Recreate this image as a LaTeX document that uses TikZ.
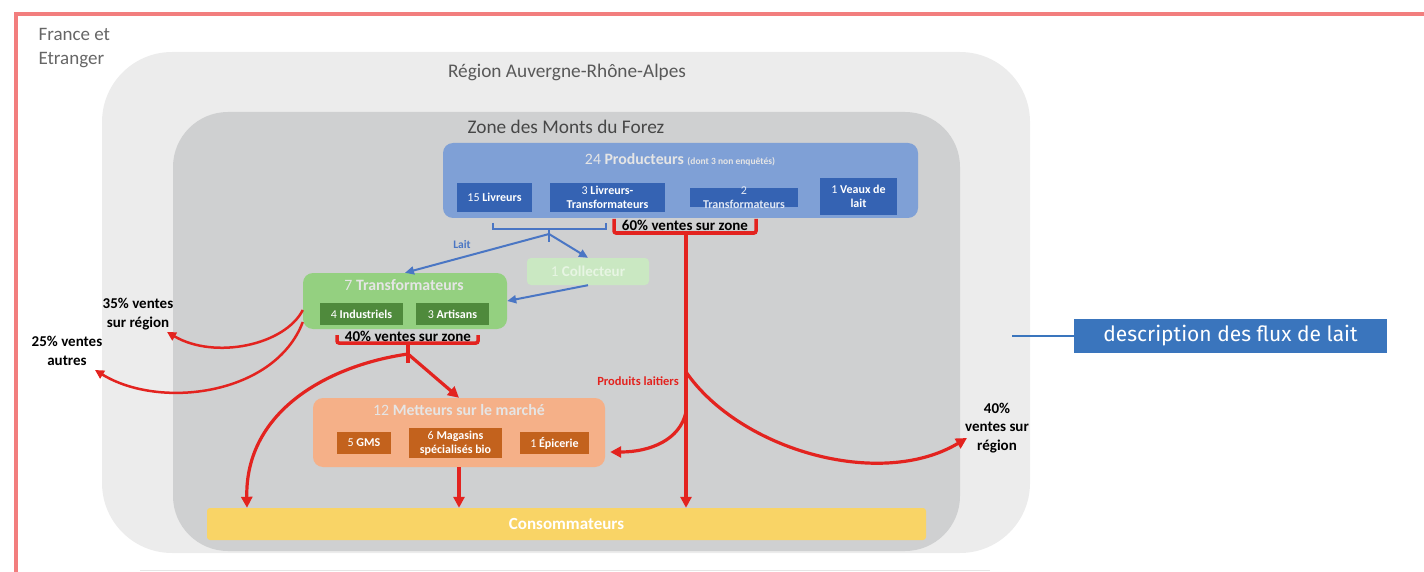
\documentclass[tikz,border=0pt]{standalone}
\usepackage{fontspec}
\setmainfont{Carlito}
\newfontfamily\legendfont{Fira Sans}
\usetikzlibrary{arrows.meta,positioning}

\definecolor{bordre}{HTML}{F27E7E}
\definecolor{regionfill}{HTML}{ECECEC}
\definecolor{zonefill}{HTML}{CFD0D1}
\definecolor{prodfill}{HTML}{7FA0D6}
\definecolor{prodsub}{HTML}{3563B3}
\definecolor{transfill}{HTML}{94D080}
\definecolor{transsub}{HTML}{4F8A3C}
\definecolor{collfill}{HTML}{CAE8C2}
\definecolor{mettfill}{HTML}{F5B088}
\definecolor{mettsub}{HTML}{C3621D}
\definecolor{consofill}{HTML}{F9D466}
\definecolor{flowred}{HTML}{E3231F}
\definecolor{milkblue}{HTML}{4A76C4}
\definecolor{legendblue}{HTML}{3A75BD}

\newcommand{\fsz}[2]{\fontsize{#1}{#2}\selectfont}

\begin{document}
\begin{tikzpicture}[x=1pt,y=-1pt,
	groupbox/.style={rounded corners=10pt,inner sep=0pt},
	subbox/.style={inner sep=0pt,text=white,align=center,font=\fsz{12}{14}},
	boxtitle/.style={text=white!90!black,font=\fsz{15.8}{17}},
	areatitle/.style={text=black!65,font=\fsz{19.3}{22}},
	pct/.style={align=center,inner sep=1pt,font=\bfseries\fsz{15}{18.5}},
	flow/.style={draw=flowred,line width=3.2pt,-{Triangle[length=11pt,width=11pt]}},
	thinflow/.style={draw=flowred,line width=2.5pt,-{Triangle[length=9pt,width=9pt]}},
	bracket/.style={draw=flowred,line width=3.5pt,rounded corners=2pt},
	milkline/.style={draw=milkblue,line width=2pt},
	milk/.style={milkline,-{Triangle[length=9pt,width=8pt]}}]
	\useasboundingbox (0,0) rectangle (1424,572);
	% frame and areas
	\draw[bordre,line width=4pt] (16,572) -- (16,14) -- (1424,14);
	\fill[regionfill,rounded corners=70pt] (102,52) rectangle (1030,553);
	\fill[zonefill,rounded corners=55pt] (173,112) rectangle (960,551);
	\draw[black!10,line width=1pt] (140,570) -- (990,570);
	\node[anchor=west,align=left,text=black!60,font=\fsz{19}{24}] (monde) at (35,48) {France et\\Etranger};
	\node[areatitle] (region) at (567,72) {Région Auvergne-Rhône-Alpes};
	\node[areatitle,text=black!72] (zone) at (566,127) {Zone des Monts du Forez};

	% producteurs
	\node[groupbox,fill=prodfill,minimum width=475,minimum height=75] (prod) at (680.5,180.5) {};
	\node[boxtitle] (prodtitle) at (680,160) {24 \textbf{Producteurs} {\bfseries\fsz{9.5}{10}(dont 3 non enquêtés)}};
	\node[subbox,fill=prodsub,minimum width=75,minimum height=29] (livr) at (494.5,197.5) {15 \textbf{Livreurs}};
	\node[subbox,fill=prodsub,minimum width=115,minimum height=29] (livtr) at (607.5,197.5) {3 \textbf{Livreurs-}\\\textbf{Transformateurs}};
	\node[subbox,fill=prodsub,minimum width=108,minimum height=19] (transf) at (744,197.5) {};
	\node[subbox,text=white!85!prodsub] (transftxt) at (transf) {2\\\textbf{Transformateurs}};
	\node[subbox,fill=prodsub,minimum width=77,minimum height=37] (veaux) at (858.5,196.5) {1 \textbf{Veaux de}\\\textbf{lait}};

	% transformateurs, collecteur
	\node[groupbox,fill=transfill,minimum width=204,minimum height=56] (transfo) at (405,301) {};
	\node[boxtitle] (transfotitle) at (404,285) {7 \textbf{Transformateurs}};
	\node[subbox,fill=transsub,minimum width=83,minimum height=22] (indus) at (361.5,314) {4 \textbf{Industriels}};
	\node[subbox,fill=transsub,minimum width=73,minimum height=22] (artis) at (452.5,314) {3 \textbf{Artisans}};
	\node[groupbox,fill=collfill,rounded corners=4pt,minimum width=122,minimum height=27,text=white!55!collfill,font=\fsz{15}{16}] (coll) at (588,271.5) {1 \textbf{Collecteur}};

	% metteurs sur le marche
	\node[groupbox,fill=mettfill,minimum width=292,minimum height=69] (mett) at (459,432.5) {};
	\node[boxtitle] (metttitle) at (459,410) {12 \textbf{Metteurs sur le marché}};
	\node[subbox,fill=mettsub,minimum width=54,minimum height=22] (gms) at (364,443) {5 \textbf{GMS}};
	\node[subbox,fill=mettsub,minimum width=93,minimum height=30] (bio) at (455.5,443) {6 \textbf{Magasins}\\\textbf{spécialisés bio}};
	\node[subbox,fill=mettsub,minimum width=69,minimum height=22] (epic) at (554.5,443) {1 \textbf{Épicerie}};

	\node[fill=consofill,rounded corners=3pt,minimum width=719,minimum height=32,text=white,font=\bfseries\fsz{17}{18}] (conso) at (566.5,524) {Consommateurs};

	% flux de lait
	\draw[milkline] (493,223) -- (493,229) -- (606,229) -- (606,223);
	\draw[milkline] (549,229) -- (549,242);
	\coordinate (laitsplit) at (549,234);
	\draw[milk] (laitsplit) -- (transfo.north);
	\draw[milk] (laitsplit) -- (coll.north);
	\draw[milk] (coll.south) -- (transfo.east);
	\node[text=milkblue,font=\bfseries\fsz{11.5}{12}] (lait) at (462,245) {Lait};

	% ventes des producteurs
	\draw[bracket] (614,219) -- (614,233) -- (756,233) -- (756,219);
	\node[pct] (zone60) at (685,225) {60\% ventes sur zone};
	\coordinate (p60) at (686,233);
	\coordinate (lait1) at (686,372);
	\coordinate (lait2) at (686,412);
	\coordinate (r40) at (967,438);
	\draw[flow] (p60) -- (p60 |- conso.north);
	\draw[flow] (lait1) .. controls (740,450) and (880,490) .. (r40);
	\draw[flow] (lait2) .. controls (680,440) and (650,452) .. ([xshift=5pt,yshift=-19.5pt]mett.east);
	\node[text=flowred,font=\bfseries\fsz{12.5}{13}] (prodlait) at (638,381) {Produits laitiers};
	\node[pct] (reg40) at (997,428) {40\%\\ventes sur\\région};

	% ventes des transformateurs
	\draw[bracket] (337,335) -- (337,343) -- (478,343) -- (478,335);
	\draw[bracket] (408,343) -- (408,363);
	\node[pct] (zone40) at (408,336) {40\% ventes sur zone};
	\coordinate (p40) at (408,354);
	\coordinate (c247) at (247,0);
	\draw[flow] (p40) -- (mett.north);
	\draw[flow] (p40) .. controls (330,365) and (245,410) .. (conso.north -| c247);
	\draw[flow] (mett.south) -- (mett.south |- conso.north);
	\node[pct] (reg35) at (138,314) {35\% ventes\\sur région};
	\node[pct] (autres25) at (67,351) {25\% ventes\\autres};
	\coordinate (r35) at (167,332);
	\coordinate (r25) at (95,370);
	\draw[thinflow] ([yshift=-9pt]transfo.west) .. controls (285,345) and (215,360) .. (r35);
	\draw[thinflow] ([yshift=-21pt]transfo.west) .. controls (275,395) and (160,410) .. (r25);

	% legende
	\node[fill=legendblue,text=white,minimum width=313,minimum height=34,font=\legendfont\fsz{21}{22}] (legend) at (1230.5,336) {description des flux de lait};
	\coordinate (legtick) at (1012,336);
	\draw[legendblue,line width=1.6pt] (legtick) -- (legend.west);
\end{tikzpicture}
\end{document}
